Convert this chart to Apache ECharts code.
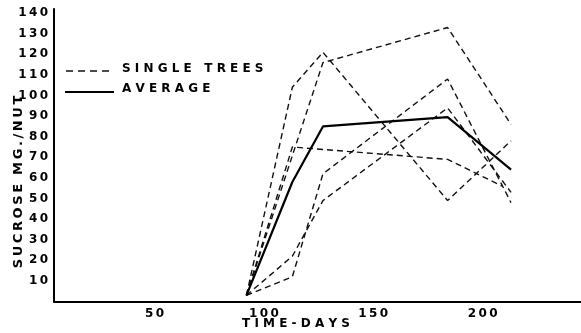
<!DOCTYPE html>
<html>
<head>
<meta charset="utf-8">
<script src="https://cdn.jsdelivr.net/npm/echarts@6/dist/echarts.min.js"></script>
<style>
  html, body { margin: 0; padding: 0; background: #fff; }
  #chart { width: 581px; height: 333px; }
</style>
</head>
<body>
<div id="chart"></div>
<script>
// Sucrose per nut over time: five single trees (dashed) and their average (solid)
const daysA = [92, 113, 127, 184, 213];
const sucroseA = [3, 104, 121, 49, 78];
const daysB = [92, 113, 127, 184, 213];
const sucroseB = [3, 12, 62, 108, 48];
const daysC = [92, 113, 127, 184, 213];
const sucroseC = [3, 22, 49, 94, 53];
const daysD = [92, 127, 184, 213];
const sucroseD = [3, 116, 133, 86];
const daysE = [92, 113, 184, 209];
const sucroseE = [3, 75, 69, 56];
const daysAvg = [92, 113, 127, 184, 213];
const sucroseAvg = [3, 58, 85, 89.5, 64];

const yTicks = [10, 20, 30, 40, 50, 60, 70, 80, 90, 100, 110, 120, 130, 140];
const xTicks = [50, 100, 150, 200];

const FONT = 'DejaVu Sans';
const spread = (s, gap) => s.split('').join(gap);
const pairs = (xs, ys) => xs.map((x, i) => [x, ys[i]]);

const trees = [
  pairs(daysA, sucroseA),
  pairs(daysB, sucroseB),
  pairs(daysC, sucroseC),
  pairs(daysD, sucroseD),
  pairs(daysE, sucroseE)
];

const dashed = { color: '#111', width: 1.4, type: [6, 4] };

const series = trees.map(d => ({
  name: 'SINGLE TREES',
  type: 'line',
  data: d,
  symbol: 'none',
  silent: true,
  lineStyle: dashed,
  z: 2
}));
series.push({
  name: 'AVERAGE',
  type: 'line',
  data: pairs(daysAvg, sucroseAvg),
  symbol: 'none',
  silent: true,
  lineStyle: { color: '#000', width: 2.2 },
  z: 3
});

const labelStyle = {
  fontFamily: FONT,
  fontWeight: 'bold',
  fontSize: 12,
  color: '#000'
};

const chart = echarts.init(document.getElementById('chart'), null, { renderer: 'canvas' });
chart.setOption({
  animation: false,
  backgroundColor: '#fff',
  grid: { left: 54, right: 0, top: 9, bottom: 31.5, containLabel: false },
  xAxis: {
    type: 'value',
    min: 4,
    max: 245,
    splitLine: { show: false },
    axisTick: { show: false },
    axisLine: { show: true, onZero: false, lineStyle: { color: '#000', width: 2 } },
    axisLabel: Object.assign({
      customValues: xTicks,
      margin: 6,
      formatter: v => spread(String(v), '\u2009')
    }, labelStyle)
  },
  yAxis: {
    type: 'value',
    min: 0,
    max: 142,
    splitLine: { show: false },
    axisTick: { show: false },
    axisLine: { show: true, lineStyle: { color: '#000', width: 2 } },
    axisLabel: Object.assign({
      customValues: yTicks,
      margin: 6,
      formatter: v => spread(String(v), '\u2009')
    }, labelStyle)
  },
  series: series,
  graphic: [
    // legend keys
    {
      type: 'line',
      shape: { x1: 66, y1: 71, x2: 113, y2: 71 },
      style: { stroke: '#111', lineWidth: 1.4, lineDash: [7, 5] }
    },
    {
      type: 'line',
      shape: { x1: 65, y1: 92, x2: 114, y2: 92 },
      style: { stroke: '#000', lineWidth: 1.8 }
    },
    {
      type: 'text',
      left: 122, top: 63,
      style: { text: spread('SINGLE', ' ') + '   ' + spread('TREES', ' '), fill: '#000', font: 'bold 12px ' + FONT }
    },
    {
      type: 'text',
      left: 122, top: 83,
      style: { text: spread('AVERAGE', ' '), fill: '#000', font: 'bold 12px ' + FONT }
    },
    // axis titles
    {
      type: 'text',
      x: 296, y: 324,
      style: {
        text: spread('TIME-DAYS', ' '),
        fill: '#000',
        font: 'bold 12px ' + FONT,
        align: 'center',
        verticalAlign: 'middle'
      }
    },
    {
      type: 'text',
      x: 19, y: 182,
      rotation: Math.PI / 2,
      style: {
        text: spread('SUCROSE', '\u2009') + '  ' + spread('MG./NUT', '\u2009'),
        fill: '#000',
        font: 'bold 13px ' + FONT,
        align: 'center',
        verticalAlign: 'middle'
      }
    }
  ]
});
</script>
</body>
</html>
